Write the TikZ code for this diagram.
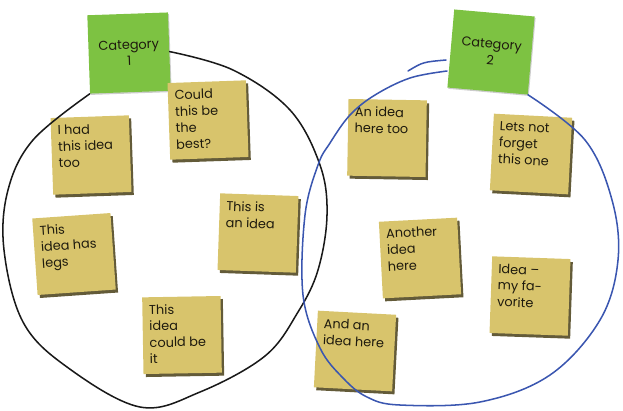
\documentclass[tikz,border=0pt]{standalone}
\usepackage{fontspec}
\setmainfont{Poppins}
\usetikzlibrary{shadows}
\definecolor{notecol}{RGB}{216,196,108}
\definecolor{catcol}{RGB}{125,194,66}
\definecolor{shadecol}{RGB}{72,62,22}
\definecolor{inkcol}{RGB}{30,26,14}
\definecolor{ringblue}{RGB}{58,86,176}
\tikzstyle{postit} = [rectangle, minimum size=2.3cm, inner sep=0.2cm, fill=notecol, text=inkcol, font=\fontsize{11}{14}\selectfont, drop shadow={shadow xshift=0.07cm, shadow yshift=-0.09cm, fill=shadecol, opacity=0.85}]
\tikzstyle{catnote} = [rectangle, minimum width=2.42cm, minimum height=2.35cm, fill=catcol, text=inkcol, align=center, font=\fontsize{11}{14}\selectfont, drop shadow={shadow xshift=0.03cm, shadow yshift=-0.04cm, fill=gray, opacity=0.4}]
\tikzstyle{ringline} = [line width=1.3pt, line cap=round, smooth, tension=0.6]
\newcommand{\idea}[1]{\parbox[t][1.85cm][t]{1.95cm}{\raggedright #1}}

\begin{document}
\begin{tikzpicture}[x=0.03cm, y=-0.03cm]
\useasboundingbox (0,0) rectangle (623,410);

% categories
\node (cat1) [catnote, rotate=2] at (129,53) {Category\\1};
\node (cat2) [catnote, rotate=-5] at (491,52) {Category\\2};

% ideas
\node (idea1) [postit, rotate=2] at (91,155) {\idea{I had\\this idea\\too}};
\node (idea2) [postit, rotate=2] at (208,120) {\idea{Could\\this be\\the\\best?}};
\node (idea3) [postit, rotate=4] at (74,254) {\idea{This\\idea has\\legs}};
\node (idea4) [postit, rotate=-2] at (258,233) {\idea{This is\\an idea}};
\node (idea5) [postit, rotate=1] at (182,335) {\idea{This\\idea\\could be\\it}};
\node (idea6) [postit, rotate=-1] at (387,138) {\idea{An idea\\here too}};
\node (idea7) [postit, rotate=-3] at (531,154) {\idea{Lets not\\forget\\this one}};
\node (idea8) [postit, rotate=3] at (420,258) {\idea{Another\\idea\\here}};
\node (idea9) [postit, rotate=-2] at (530,296) {\idea{Idea --\\my fa-\\vorite}};
\node (idea10) [postit, rotate=-3] at (355,351) {\idea{And an\\idea here}};

% rings round the groups
\draw [ringline, black!90] plot coordinates {(cat1.east) (233,70) (290,110) (320,165) (327,215) (318,270) (298,312) (265,356) (200,392) (140,407) (67,367) (23,322) (4,250) (8,190) (33,140) (cat1.south west)};
\draw [ringline, ringblue] plot coordinates {(cat2.south east) (585,140) (612,200) (618,260) (600,320) (550,375) (480,402) (400,405) (367,397) (343,378) (320,348) (303,295) (305,215) (318,165) (330,143) (350,115) (375,95) (410,78) (447,71)};
\draw [ringline, ringblue] (408,71) .. controls (423,62) .. (446,60);

\end{tikzpicture}
\end{document}
